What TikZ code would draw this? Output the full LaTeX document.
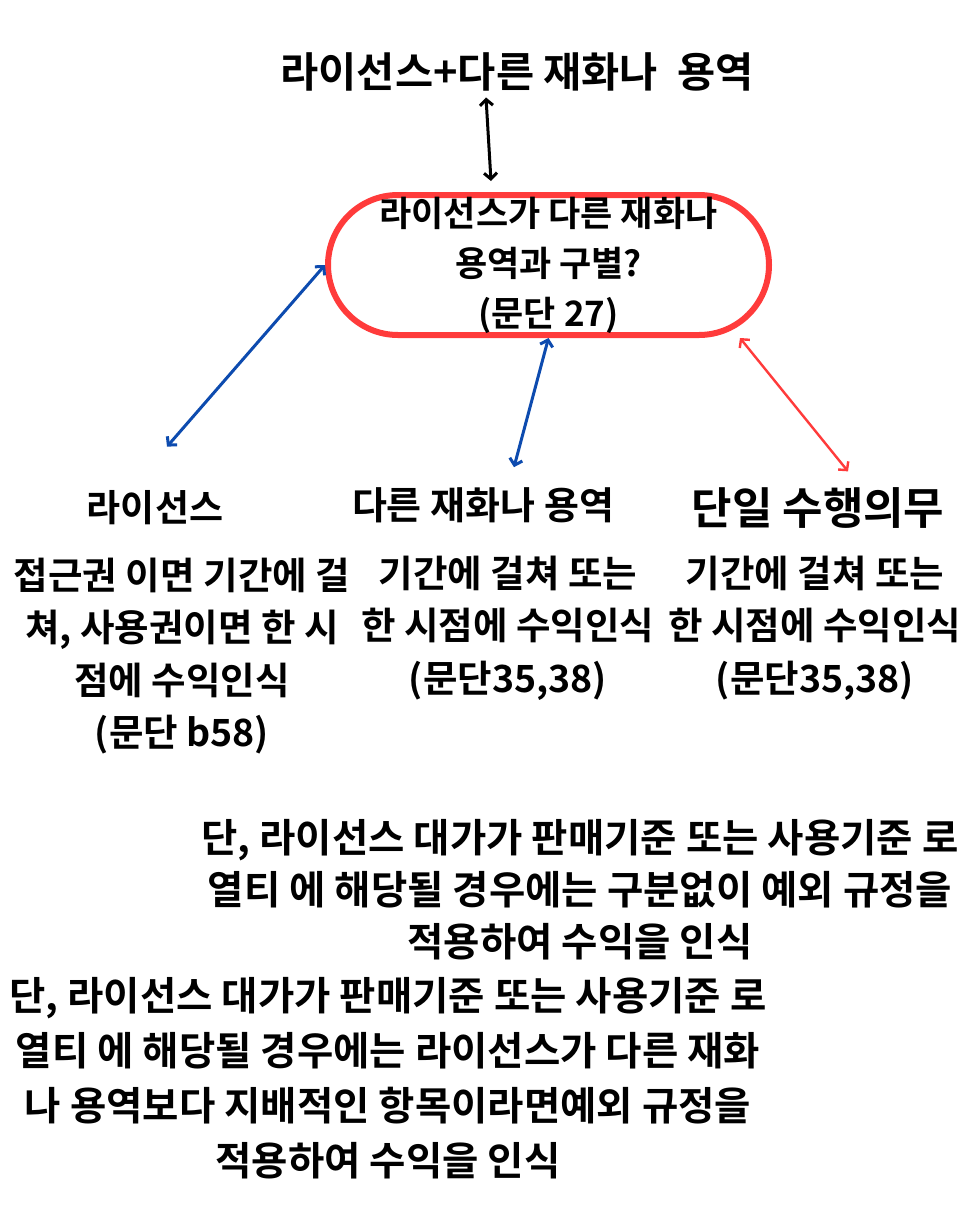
\documentclass[tikz,border=0pt]{standalone}
\usepackage{fontspec}
\setmainfont{Noto Sans CJK KR}[BoldFont={Noto Sans CJK KR Bold}]
\usetikzlibrary{arrows.meta}
\definecolor{qred}{HTML}{FF3B3B}
\definecolor{qblue}{HTML}{0D4BAF}
\newcommand{\ksize}[2]{\fontsize{#1}{#2}\selectfont\bfseries}
\tikzset{
  txt/.style={align=center, inner sep=0pt, font=\ksize{37.5}{52.5}},
  biarrow/.style={{Straight Barb[length=6pt,width=13pt]}-{Straight Barb[length=6pt,width=13pt]}, line width=3pt},
  stadium/.style={draw=qred, line width=6pt, rounded corners=70pt, minimum width=441pt, minimum height=140pt, inner sep=0pt, align=center, font=\ksize{35}{50}}
}

\begin{document}
\begin{tikzpicture}[x=1pt,y=-1pt]
\fill[white] (0,0) rectangle (966,1208);
\useasboundingbox (0,0) rectangle (966,1208);

\node[txt, font=\ksize{41.5}{46}] (title) at (517,72) {라이선스+다른 재화나\ \ 용역};
\node[stadium] (quest) at (548.5,265) {라이선스가 다른 재화나\\용역과 구별?\\(문단 27)};

\node[txt, font=\ksize{37}{40}] (lic) at (155,508) {라이선스};
\node[txt, font=\ksize{38}{40}] (oth) at (483,505) {다른 재화나 용역};
\node[txt, font=\ksize{44}{46}] (single) at (818,508) {단일 수행의무};

\node[txt] (licnote) at (182,656) {접근권 이면 기간에 걸\\쳐, 사용권이면 한 시\\점에 수익인식\\(문단 b58)};
\node[txt] (othnote) at (508,628) {기간에 걸쳐 또는\\한 시점에 수익인식\\(문단35,38)};
\node[txt] (singlenote) at (815,628) {기간에 걸쳐 또는\\한 시점에 수익인식\\(문단35,38)};

\node[txt, font=\ksize{39.5}{52}] (except1) at (580,890) {단, 라이선스 대가가 판매기준 또는 사용기준 로\\열티 에 해당될 경우에는 구분없이 예외 규정을\\적용하여 수익을 인식};
\node[txt, font=\ksize{39.5}{55}] (except2) at (388,1078) {단, 라이선스 대가가 판매기준 또는 사용기준 로\\열티 에 해당될 경우에는 라이선스가 다른 재화\\나 용역보다 지배적인 항목이라면예외 규정을\\적용하여 수익을 인식};

% arrows
\draw[biarrow] ([xshift=-31pt,yshift=-6pt]title.south) -- ([xshift=-57.5pt,yshift=11pt]quest.north);
\draw[biarrow, qblue] ([xshift=12pt,yshift=44pt]lic.north) -- (quest.west);
\draw[biarrow, qblue] ([xshift=31pt,yshift=20pt]oth.north) -- (quest.south);
\draw[biarrow, qred, line width=2.4pt] ([xshift=30pt,yshift=16pt]single.north) -- ([xshift=191.5pt]quest.south);
\end{tikzpicture}
\end{document}
